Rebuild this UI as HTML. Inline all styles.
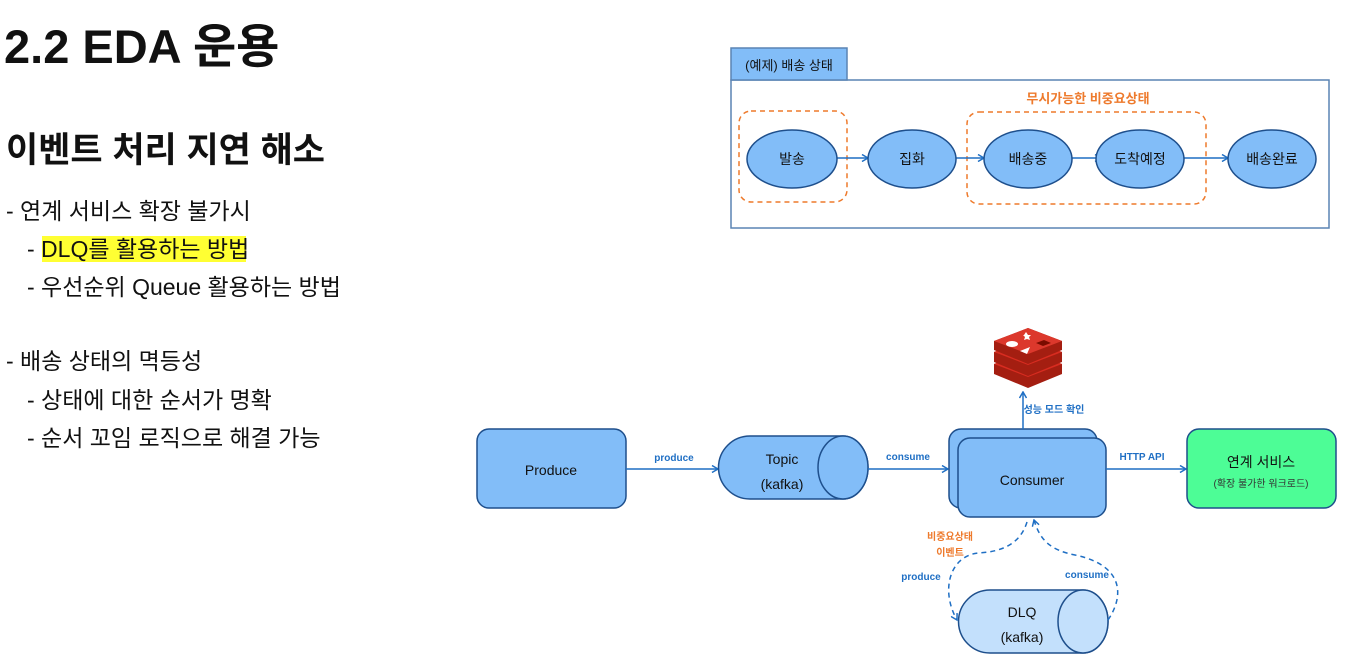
<!DOCTYPE html>
<html><head><meta charset="utf-8"><style>
body{margin:0;background:#fff;}
svg{display:block;font-family:"Liberation Sans","Noto Sans CJK KR",sans-serif;}
</style></head><body>
<svg width="1351" height="661" viewBox="0 0 1351 661" xmlns="http://www.w3.org/2000/svg">
<defs>
<marker id="a" markerWidth="8" markerHeight="8" refX="7" refY="4" orient="auto" markerUnits="userSpaceOnUse"><path d="M1,0.5 L7,4 L1,7.5" fill="none" stroke="#1f6fc4" stroke-width="1.5"/></marker>
</defs>
<!-- left text -->
<text x="4" y="63" font-size="47" font-weight="bold" fill="#111">2.2 EDA 운용</text>
<text x="6" y="162" font-size="35" font-weight="bold" fill="#111">이벤트 처리 지연 해소</text>
<rect x="42" y="236" width="204" height="26" fill="#ffff33"/>
<g font-size="23" fill="#111">
<text x="6" y="219">- 연계 서비스 확장 불가시</text>
<text x="27" y="257">- DLQ를 활용하는 방법</text>
<text x="27" y="295">- 우선순위 Queue 활용하는 방법</text>
<text x="6" y="369">- 배송 상태의 멱등성</text>
<text x="27" y="408">- 상태에 대한 순서가 명확</text>
<text x="27" y="446">- 순서 꼬임 로직으로 해결 가능</text>
</g>
<!-- top diagram -->
<rect x="731" y="80" width="598" height="148" fill="#fff" stroke="#5a84b4" stroke-width="1.5"/>
<rect x="731" y="48" width="116" height="32" fill="#82bdf8" stroke="#5a84b4" stroke-width="1.5"/>
<text x="789" y="70" font-size="13" text-anchor="middle" fill="#111">(예제) 배송 상태</text>
<text x="1088" y="103" font-size="13" font-weight="bold" text-anchor="middle" fill="#ee7a2c">무시가능한 비중요상태</text>
<rect x="739" y="111" width="108" height="91" rx="12" fill="none" stroke="#ee7a2c" stroke-width="1.5" stroke-dasharray="5,4"/>
<rect x="967" y="112" width="239" height="92" rx="12" fill="none" stroke="#ee7a2c" stroke-width="1.5" stroke-dasharray="5,4"/>
<g stroke="#1f6fc4" stroke-width="1.5" marker-end="url(#a)">
<line x1="837" y1="158" x2="868" y2="158"/>
<line x1="956" y1="158" x2="984" y2="158"/>
<line x1="1072" y1="158" x2="1101" y2="158"/>
<line x1="1184" y1="158" x2="1228" y2="158"/>
</g>
<g fill="#82bdf8" stroke="#1e4f8c" stroke-width="1.5">
<ellipse cx="792" cy="159" rx="45" ry="29"/>
<ellipse cx="912" cy="159" rx="44" ry="29"/>
<ellipse cx="1028" cy="159" rx="44" ry="29"/>
<ellipse cx="1140" cy="159" rx="44" ry="29"/>
<ellipse cx="1272" cy="159" rx="44" ry="29"/>
</g>
<g font-size="14" text-anchor="middle" fill="#111">
<text x="792" y="164">발송</text><text x="912" y="164">집화</text><text x="1028" y="164">배송중</text><text x="1140" y="164">도착예정</text><text x="1272" y="164">배송완료</text>
</g>
<!-- bottom diagram -->
<rect x="477" y="429" width="149" height="79" rx="12" fill="#82bdf8" stroke="#1e4f8c" stroke-width="1.5"/>
<text x="551" y="475" font-size="14" text-anchor="middle" fill="#111">Produce</text>
<line x1="626" y1="469" x2="718" y2="469" stroke="#1f6fc4" stroke-width="1.5" marker-end="url(#a)"/>
<text x="674" y="461" font-size="10" font-weight="bold" text-anchor="middle" fill="#1f6fc4">produce</text>
<path d="M750,436 H843 A25,31.5 0 0 1 843,499 H750 A31.5,31.5 0 0 1 750,436 Z" fill="#82bdf8" stroke="#1e4f8c" stroke-width="1.5"/>
<ellipse cx="843" cy="467.5" rx="25" ry="31.5" fill="#82bdf8" stroke="#1e4f8c" stroke-width="1.5"/>
<text x="782" y="464" font-size="14" text-anchor="middle" fill="#111">Topic</text>
<text x="782" y="489" font-size="14" text-anchor="middle" fill="#111">(kafka)</text>
<line x1="868" y1="469" x2="948" y2="469" stroke="#1f6fc4" stroke-width="1.5" marker-end="url(#a)"/>
<text x="908" y="460" font-size="10" font-weight="bold" text-anchor="middle" fill="#1f6fc4">consume</text>
<rect x="949" y="429" width="148" height="79" rx="12" fill="#82bdf8" stroke="#1e4f8c" stroke-width="1.5"/>
<rect x="958" y="438" width="148" height="79" rx="12" fill="#82bdf8" stroke="#1e4f8c" stroke-width="1.5"/>
<text x="1032" y="485" font-size="14" text-anchor="middle" fill="#111">Consumer</text>
<line x1="1023" y1="429" x2="1023" y2="392" stroke="#1f6fc4" stroke-width="1.5" marker-end="url(#a)"/>
<text x="1054" y="413" font-size="10" font-weight="bold" text-anchor="middle" fill="#1f6fc4">성능 모드 확인</text>
<!-- redis -->
<g>
<path d="M994,364 L1028,351 L1062,364 L1062,374 L1028,388 L994,374 Z" fill="#a41e11"/>
<path d="M994,364 L1028,377 L1062,364 L1028,351 Z" fill="#d82c20"/>
<path d="M994,352 L1028,339 L1062,352 L1062,362 L1028,376 L994,362 Z" fill="#a41e11"/>
<path d="M994,352 L1028,365 L1062,352 L1028,339 Z" fill="#d82c20"/>
<path d="M994,341 L1028,328 L1062,341 L1062,350 L1028,364 L994,350 Z" fill="#a41e11"/>
<path d="M994,341 L1028,354 L1062,341 L1028,328 Z" fill="#dc382c"/>
<ellipse cx="1012" cy="344" rx="6" ry="3" fill="#fff"/>
<path d="M1024,335 l2,-3 l2,3 l3,0 l-2,2 l1,3 l-3,-1 l-3,1 l1,-3 l-2,-2z" fill="#fff"/>
<path d="M1036,343 l8,-3 l7,3 l-8,3z" fill="#7a0c00"/>
<path d="M1020,351 l10,-4 l-3,7z" fill="#fff"/>
</g>
<line x1="1106" y1="469" x2="1186" y2="469" stroke="#1f6fc4" stroke-width="1.5" marker-end="url(#a)"/>
<text x="1142" y="460" font-size="10" font-weight="bold" text-anchor="middle" fill="#1f6fc4">HTTP API</text>
<rect x="1187" y="429" width="149" height="79" rx="12" fill="#4dfd96" stroke="#1e4f8c" stroke-width="1.5"/>
<text x="1261" y="467" font-size="14" text-anchor="middle" fill="#111">연계 서비스</text>
<text x="1261" y="487" font-size="10" text-anchor="middle" fill="#333">(확장 불가한 워크로드)</text>
<!-- DLQ -->
<path d="M990,590 H1083 A25,31.5 0 0 1 1083,653 H990 A31.5,31.5 0 0 1 990,590 Z" fill="#c3e0fc" stroke="#1e4f8c" stroke-width="1.5"/>
<ellipse cx="1083" cy="621.5" rx="25" ry="31.5" fill="#c3e0fc" stroke="#1e4f8c" stroke-width="1.5"/>
<text x="1022" y="617" font-size="14" text-anchor="middle" fill="#111">DLQ</text>
<text x="1022" y="642" font-size="14" text-anchor="middle" fill="#111">(kafka)</text>
<path d="M1027,522 C1020,545 1000,552 978,553 C950,556 940,590 957,620" fill="none" stroke="#1f6fc4" stroke-width="1.5" stroke-dasharray="5,4" marker-end="url(#a)"/>
<path d="M1108,620 C1125,595 1123,565 1075,555 C1050,550 1040,540 1034,520" fill="none" stroke="#1f6fc4" stroke-width="1.5" stroke-dasharray="5,4" marker-end="url(#a)"/>
<text x="950" y="540" font-size="10" font-weight="bold" text-anchor="middle" fill="#ee7a2c">비중요상태</text>
<text x="950" y="556" font-size="10" font-weight="bold" text-anchor="middle" fill="#ee7a2c">이벤트</text>
<text x="921" y="580" font-size="10" font-weight="bold" text-anchor="middle" fill="#1f6fc4">produce</text>
<text x="1087" y="578" font-size="10" font-weight="bold" text-anchor="middle" fill="#1f6fc4">consume</text>
</svg>
</body></html>
